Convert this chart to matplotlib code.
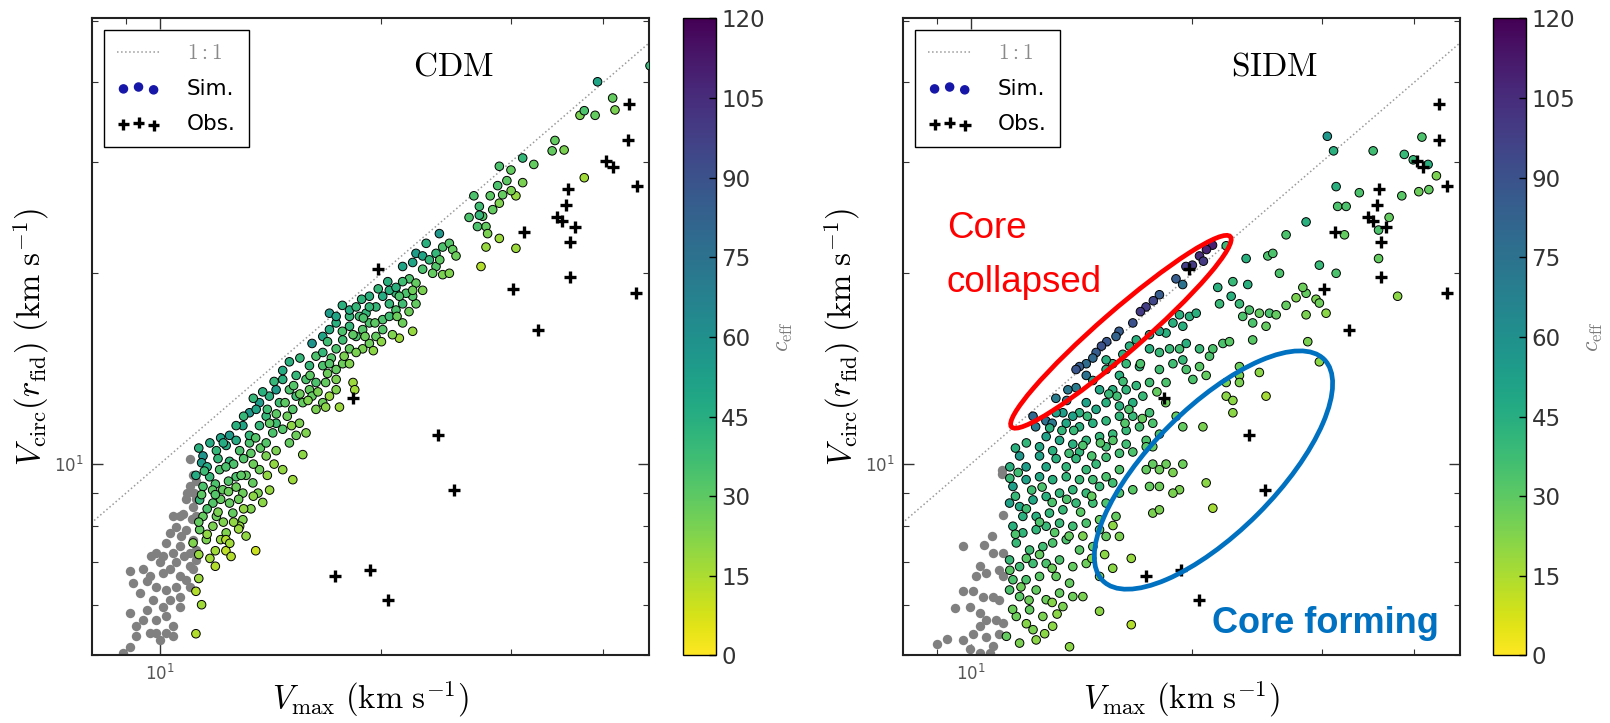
import numpy as np
import matplotlib
matplotlib.use("Agg")
import matplotlib.pyplot as plt
from matplotlib.patches import Ellipse
from matplotlib.transforms import ScaledTranslation
from matplotlib.ticker import NullFormatter
from matplotlib.lines import Line2D

plt.rcParams['mathtext.fontset'] = 'cm'
plt.rcParams['font.family'] = 'DejaVu Sans'

# observed galaxies (same in both panels)
obs_vmax = [19.8, 43.3, 43.2, 40.4, 41.2, 44.4, 35.8, 35.6, 34.6, 35.2, 36.6, 36.1,
            31.2, 36.1, 30.2, 44.3, 32.6, 18.3, 23.9, 25.1, 17.3, 19.3, 20.4]
obs_vcirc = [20.3, 37.0, 32.5, 30.1, 29.4, 27.5, 27.2, 25.6, 24.5, 24.2, 23.7, 22.4,
             23.2, 19.7, 18.9, 18.6, 16.3, 12.7, 11.1, 9.1, 6.65, 6.8, 6.1]

# CDM simulated haloes: (Vmax, Vcirc, c_eff)
cdm_pts = [
    (11.45, 10.3, 58), (11.4, 10.05, 54), (11.94, 10.5, 40), (12.31, 10.7, 46), (12.06, 9.8, 34),
    (11.69, 9.55, 40), (12.44, 10.1, 40), (12.84, 10.5, 34), (13.24, 10.8, 34), (12.7, 9.55, 34),
    (12.18, 9.11, 29), (11.45, 9.22, 34), (11.33, 8.78, 40), (11.81, 8.68, 32), (12.44, 8.68, 29),
    (12.97, 9.0, 27), (13.38, 9.34, 29), (13.66, 9.8, 27), (13.95, 10.3, 24), (14.39, 10.5, 24),
    (14.69, 9.8, 20), (15.16, 9.45, 18), (11.45, 8.27, 29), (11.94, 8.27, 27), (12.57, 8.37, 29),
    (12.97, 8.17, 23), (11.33, 7.88, 29), (11.81, 7.98, 24), (12.31, 7.79, 23), (12.84, 7.98, 19),
    (11.57, 7.6, 24), (11.1, 7.51, 23),
    (11.6, 9.9, 46), (12.0, 10.2, 40), (12.6, 10.0, 34), (13.0, 10.2, 32), (11.2, 9.6, 46),
    (11.9, 9.3, 34), (12.4, 9.4, 32), (13.1, 9.6, 29), (13.6, 9.0, 24), (14.1, 9.1, 19),
    (11.6, 8.5, 34), (12.1, 8.8, 29), (12.8, 8.8, 27), (13.3, 8.5, 23), (13.8, 8.7, 21),
    (11.3, 8.1, 29), (12.1, 7.6, 19), (13.1, 7.7, 20),
    (11.2, 5.4, 14), (11.4, 6.0, 17), (11.2, 6.3, 14), (11.3, 6.6, 18), (11.9, 6.9, 14),
    (11.9, 7.3, 17), (12.3, 7.6, 14), (12.3, 7.3, 12), (12.5, 7.15, 14), (13.5, 7.3, 10),
    (12.8, 7.9, 18),
    (11.3, 10.6, 44), (11.7, 10.8, 46), (12.1, 11.0, 50), (11.5, 9.75, 38), (11.8, 9.1, 30),
    (12.3, 9.9, 34), (12.7, 9.2, 27), (13.4, 10.0, 27), (13.7, 10.6, 30), (14.3, 10.0, 20),
    (11.4, 8.95, 30), (12.0, 8.4, 24), (12.6, 8.1, 20), (11.6, 7.75, 20), (12.2, 8.1, 23),
    (11.9, 8.95, 32), (12.9, 9.6, 30), (13.3, 10.4, 30), (14.0, 9.6, 20), (12.45, 7.5, 17),
    (11.3, 7.2, 19), (11.7, 7.1, 17), (13.4, 8.9, 21), (12.4, 9.05, 27), (13.0, 8.5, 20),
    (12.44, 11.1, 54), (12.7, 10.9, 46), (13.24, 11.1, 40), (13.66, 11.5, 40), (12.97, 11.5, 50),
    (13.24, 12.05, 56), (13.95, 11.9, 40), (13.66, 12.5, 54), (13.52, 12.2, 50), (14.54, 12.5, 37),
    (14.09, 12.8, 44), (14.39, 13.1, 54), (15.0, 13.1, 34), (14.69, 13.6, 44), (14.69, 14.05, 46),
    (15.32, 13.8, 40), (15.8, 13.6, 34), (15.97, 13.1, 29), (15.64, 12.5, 29), (15.16, 12.2, 32),
    (15.48, 11.6, 24), (15.8, 11.2, 23), (15.32, 11.1, 27), (15.0, 10.8, 29), (14.69, 11.35, 32),
    (14.24, 11.2, 34), (13.95, 10.8, 32), (14.39, 11.6, 37), (15.64, 10.35, 21), (16.3, 12.2, 24),
    (16.65, 12.5, 27), (17.0, 12.8, 19), (17.36, 13.1, 23), (16.8, 13.45, 29), (16.3, 13.45, 34),
    (17.36, 14.1, 29), (17.72, 14.4, 27), (16.65, 14.3, 34), (15.97, 14.3, 40), (17.36, 13.6, 24),
    (17.54, 12.3, 18), (18.3, 13.45, 18), (18.4, 13.1, 17), (16.1, 12.8, 29), (15.32, 12.8, 37),
    (12.7, 11.5, 44), (12.2, 10.8, 46),
    (13.0, 11.9, 40), (13.5, 11.0, 32), (14.0, 12.2, 37), (14.4, 12.0, 30), (14.8, 12.5, 30),
    (15.2, 13.3, 32), (15.5, 12.9, 27), (14.9, 11.9, 27), (15.9, 12.6, 23), (16.4, 13.0, 24),
    (16.0, 13.8, 30), (14.3, 13.5, 40), (13.8, 13.0, 44), (13.4, 12.7, 40), (14.1, 11.6, 30),
    (16.9, 13.9, 27), (17.1, 14.7, 32), (16.3, 14.8, 34), (15.5, 14.7, 40), (15.0, 14.5, 44),
    (16.8, 12.3, 21), (15.1, 11.5, 21),
    (16.1, 15.5, 58), (16.65, 15.9, 50), (17.0, 16.3, 46), (17.36, 16.7, 44), (18.1, 16.5, 40),
    (17.72, 15.7, 37), (18.48, 15.9, 34), (18.86, 16.3, 32), (19.26, 16.7, 34), (17.36, 15.2, 34),
    (18.1, 15.2, 29), (18.86, 15.2, 24), (16.65, 15.0, 40), (17.0, 14.4, 32), (18.1, 14.4, 23),
    (18.48, 15.0, 24), (19.26, 15.5, 27), (19.66, 15.9, 29), (20.08, 16.3, 32), (20.08, 16.9, 34),
    (20.5, 17.1, 37), (20.93, 17.5, 34), (21.37, 17.9, 37), (20.5, 17.9, 40), (20.08, 18.4, 46),
    (19.66, 17.7, 40), (19.06, 17.3, 40), (18.67, 17.1, 37), (21.37, 16.7, 27), (22.05, 16.2, 19),
    (21.15, 15.8, 18), (22.28, 17.9, 29), (22.05, 18.4, 32), (20.93, 18.6, 40), (21.6, 18.6, 34),
    (20.5, 18.8, 44), (19.26, 17.7, 40), (18.1, 17.1, 40), (17.0, 17.3, 54), (17.36, 17.1, 50),
    (18.1, 17.5, 46), (18.48, 17.7, 40), (19.26, 18.4, 44),
    (17.7, 16.2, 34), (18.3, 16.0, 30), (19.0, 15.9, 27), (19.6, 16.7, 30), (18.9, 17.0, 34),
    (17.7, 17.8, 44), (18.8, 18.2, 42), (19.8, 18.9, 40), (20.4, 19.4, 44), (21.0, 17.1, 27),
    (20.0, 15.6, 21), (19.5, 15.1, 21), (17.8, 14.8, 24), (16.9, 15.6, 37), (21.8, 17.4, 27),
    (20.7, 16.0, 23),
    (21.37, 20.5, 50), (22.05, 20.8, 50), (22.28, 21.5, 54), (22.75, 21.3, 50), (23.23, 21.0, 40),
    (23.72, 21.5, 40), (23.97, 23.1, 56), (24.22, 22.0, 34), (24.73, 22.3, 32), (24.99, 21.8, 29),
    (25.25, 21.3, 27), (23.72, 20.5, 32), (24.22, 19.9, 24), (24.73, 20.0, 23), (23.47, 20.0, 29),
    (22.75, 20.3, 34), (21.82, 19.6, 34), (21.37, 19.4, 37), (22.28, 19.3, 29), (22.75, 18.8, 24),
    (22.05, 18.8, 27), (20.93, 19.0, 44), (21.15, 18.4, 34), (23.0, 22.3, 44), (24.0, 21.0, 30),
    (26.7, 26.5, 34), (27.16, 25.5, 37), (27.44, 24.6, 32), (27.73, 23.7, 29), (27.0, 23.7, 34),
    (28.32, 25.2, 29), (28.91, 25.8, 23), (29.21, 26.6, 29), (30.45, 26.5, 19), (31.1, 27.8, 24),
    (28.76, 27.5, 34), (28.91, 29.5, 34), (29.98, 29.1, 29), (31.1, 30.4, 40), (32.2, 29.7, 29),
    (28.91, 22.7, 18), (27.73, 22.0, 19), (30.45, 21.9, 18), (27.3, 20.5, 14), (27.87, 23.1, 24),
    (27.16, 24.7, 40), (26.3, 24.5, 34), (28.1, 26.5, 30), (29.6, 28.0, 30), (30.0, 27.0, 24),
    (39.3, 40.1, 50), (41.2, 37.8, 29), (41.5, 36.2, 24), (39.0, 35.5, 29), (37.2, 35.5, 24),
    (37.7, 36.1, 34), (34.4, 32.4, 29), (35.4, 31.3, 24), (34.1, 31.2, 29), (37.7, 28.3, 17),
    (46.3, 42.5, 40),
]

# CDM haloes below the resolution cut (grey)
cdm_grey = [
    (11.0, 10.2), (11.1, 9.6), (10.98, 9.25), (11.15, 9.0), (10.87, 8.8), (11.1, 8.57),
    (10.75, 8.35), (11.05, 8.2), (10.64, 8.27), (10.42, 8.27), (10.53, 7.97), (10.87, 7.88),
    (10.7, 7.7), (11.1, 7.6), (10.32, 7.8), (10.21, 7.5), (10.64, 7.42), (10.98, 7.24),
    (10.42, 7.24), (10.1, 7.15), (9.9, 7.24), (9.74, 7.15), (10.0, 7.0), (10.53, 7.0),
    (10.98, 6.9), (10.32, 6.82), (9.69, 6.65), (10.1, 6.74), (10.64, 6.65), (11.1, 6.82),
    (10.87, 6.57), (9.5, 6.82), (9.11, 6.78), (9.2, 6.49), (9.6, 6.53), (9.9, 6.41),
    (10.21, 6.33), (10.53, 6.41), (9.4, 6.26), (9.8, 6.1), (10.1, 5.96), (10.32, 6.1),
    (10.64, 6.18), (9.6, 5.89), (9.11, 5.82), (9.3, 5.55), (9.5, 5.68), (9.9, 5.68),
    (10.21, 5.75), (10.42, 5.55), (9.69, 5.41), (10.0, 5.28), (9.3, 5.35), (9.11, 5.15),
    (8.92, 5.03), (10.42, 5.35), (10.21, 5.41), (9.9, 5.41), (10.64, 5.96), (10.98, 6.41),
    (11.2, 9.4), (11.2, 8.8), (10.9, 9.0), (11.2, 8.27), (11.2, 7.33), (11.2, 7.05), (10.8, 7.15),
]

# SIDM simulated haloes: (Vmax, Vcirc, c_eff)
sidm_pts = [
    # core-collapsed haloes along the 1:1 line
    (21.3, 22.15, 110), (20.9, 21.8, 108), (20.45, 21.3, 105), (20.7, 20.9, 100), (20.0, 20.6, 100),
    (19.6, 20.5, 98), (19.0, 19.6, 85), (19.4, 19.2, 75), (18.04, 18.5, 85), (17.7, 18.1, 95),
    (17.3, 17.7, 98), (17.0, 17.4, 100), (16.6, 16.7, 90), (15.9, 16.2, 85), (15.75, 15.9, 82),
    (15.3, 15.6, 88), (15.05, 15.35, 90), (14.8, 15.0, 85), (14.65, 14.7, 80), (14.35, 14.4, 78),
    (14.05, 14.25, 85), (13.9, 14.1, 88), (14.35, 13.8, 75), (13.9, 13.2, 70), (13.55, 13.1, 72),
    (13.05, 12.7, 70), (13.5, 12.6, 70), (12.15, 11.9, 80), (12.65, 11.7, 75), (12.25, 11.45, 70),
    (12.9, 11.6, 72),
    # upper right
    (31.35, 27.4, 44), (33.71, 26.8, 34), (31.5, 25.5, 34), (32.35, 25.5, 34), (28.54, 24.1, 44),
    (26.81, 23.0, 34), (32.18, 23.0, 29),
    (30.5, 32.9, 56), (31.1, 31.2, 44), (35.2, 31.2, 37), (41.0, 32.8, 34), (38.8, 30.8, 39),
    (39.9, 30.2, 39), (42.9, 28.5, 24), (41.9, 27.1, 29), (40.6, 26.9, 27), (38.5, 26.5, 31),
    (37.0, 24.5, 29), (35.8, 23.4, 34), (35.8, 21.1, 29), (38.0, 18.4, 21), (41.8, 29.7, 44),
    (22.23, 22.1, 39), (23.66, 21.1, 44), (25.32, 21.3, 34), (25.72, 21.5, 34), (26.26, 20.0, 34),
    (29.75, 20.6, 39), (31.35, 20.0, 34), (22.7, 19.4, 39), (23.78, 19.2, 44), (21.65, 19.0, 44),
    (22.58, 18.4, 44), (21.77, 17.9, 39), (23.17, 17.9, 39), (23.9, 17.5, 34), (24.66, 17.3, 29),
    (25.45, 17.3, 34), (25.99, 17.2, 29), (26.81, 17.8, 29), (27.66, 18.3, 24), (28.54, 18.6, 29),
    (28.25, 19.0, 27), (29.44, 18.2, 24), (29.75, 17.95, 27), (30.38, 17.3, 21), (28.54, 17.2, 24),
    (25.18, 16.5, 29), (24.15, 16.7, 34), (23.41, 17.1, 34),
    # middle of the cloud
    (19.82, 17.1, 44), (20.24, 17.3, 44), (19.21, 17.2, 44), (18.82, 16.7, 44), (19.41, 16.5, 44),
    (18.42, 16.1, 44), (18.04, 16.2, 48), (17.49, 16.0, 48), (16.78, 15.7, 44), (16.43, 15.35, 44),
    (16.09, 14.9, 44), (15.59, 14.4, 44), (15.27, 14.6, 44), (15.27, 14.1, 44), (16.26, 14.4, 39),
    (16.95, 14.25, 41), (17.49, 15.2, 44), (18.04, 15.0, 39), (18.62, 15.2, 39), (19.21, 15.2, 37),
    (19.62, 15.5, 44), (20.45, 15.2, 39), (21.1, 14.8, 34), (21.32, 15.2, 34), (22.0, 15.5, 34),
    (22.46, 15.6, 31), (24.15, 15.7, 31), (28.69, 15.6, 24), (29.75, 14.5, 21), (18.04, 14.1, 37),
    (17.49, 13.45, 37), (18.42, 13.45, 34), (18.82, 14.4, 37), (19.41, 14.6, 39), (19.62, 14.1, 34),
    (20.03, 13.6, 34), (20.45, 14.25, 31), (20.88, 13.8, 29), (23.17, 14.25, 27), (23.17, 13.8, 24),
    (24.66, 13.95, 21), (22.23, 13.45, 24),
    (14.65, 13.55, 51), (14.96, 13.1, 48), (15.92, 13.8, 44), (15.59, 13.1, 44), (16.26, 13.1, 41),
    (16.78, 13.3, 41), (17.13, 12.8, 39), (16.6, 12.5, 44), (15.92, 12.35, 44), (15.27, 12.5, 44),
    (14.8, 12.2, 48), (14.35, 12.5, 51), (14.05, 12.05, 44), (13.76, 11.9, 51), (13.34, 12.05, 53),
    (13.06, 12.05, 51), (13.48, 11.6, 48), (14.05, 11.45, 44), (14.65, 11.6, 44), (15.27, 11.7, 41),
    (15.92, 11.9, 41), (16.6, 11.9, 39), (17.49, 12.05, 37), (17.67, 11.6, 34), (16.95, 11.45, 37),
    (16.26, 11.3, 39), (15.59, 11.15, 39), (14.96, 11.05, 41), (14.35, 10.9, 41), (13.76, 10.75, 44),
    (13.2, 10.9, 48), (12.66, 11.05, 51), (12.4, 10.65, 48), (12.92, 10.5, 44), (14.05, 10.45, 41),
    (15.27, 10.65, 37), (16.26, 10.75, 37), (17.31, 10.9, 34), (18.04, 11.15, 34), (17.67, 10.65, 29),
    (19.01, 11.9, 29), (19.41, 11.45, 29), (20.67, 11.45, 24), (22.7, 12.05, 21), (22.23, 12.8, 21),
    (22.7, 12.6, 21), (23.17, 13.45, 24), (25.18, 12.8, 16),
    # lower part (core forming)
    (11.65, 10.3, 56), (11.89, 9.9, 53), (12.4, 10.3, 51), (12.66, 9.9, 48), (13.06, 10.2, 44),
    (13.48, 9.9, 41), (13.9, 10.2, 41), (14.35, 9.8, 39), (14.8, 10.0, 39), (15.27, 10.25, 37),
    (15.92, 10.4, 37), (16.6, 10.45, 34), (17.31, 10.65, 31), (17.67, 10.0, 29), (18.42, 10.0, 27),
    (18.82, 9.7, 24), (19.41, 10.0, 27), (17.31, 9.8, 29), (18.04, 9.8, 27), (15.92, 9.8, 34),
    (15.27, 9.55, 34), (14.65, 9.45, 37), (14.05, 9.45, 39), (13.48, 9.55, 41), (12.92, 9.45, 44),
    (12.4, 9.55, 48), (11.89, 9.45, 51), (11.41, 9.22, 53), (11.29, 8.68, 51), (11.65, 8.57, 48),
    (12.15, 8.78, 48), (12.66, 8.89, 44), (13.2, 9.0, 41), (13.76, 9.11, 41), (14.35, 9.0, 39),
    (14.96, 9.22, 39), (15.59, 9.34, 37), (15.27, 8.68, 34), (14.65, 8.68, 37), (13.9, 8.68, 39),
    (13.34, 8.47, 39), (12.79, 8.37, 41), (12.27, 8.27, 44), (11.77, 8.27, 44), (15.92, 9.0, 34),
    (16.6, 9.11, 31), (17.49, 9.22, 29), (18.04, 9.22, 27), (19.21, 9.11, 24), (20.88, 9.34, 21),
    (21.32, 8.52, 16), (17.67, 8.37, 24), (18.04, 8.47, 24), (18.82, 9.0, 24), (15.75, 8.27, 29),
    (14.96, 8.17, 29),
    (11.41, 7.98, 44), (11.77, 7.79, 41), (12.27, 7.88, 41), (12.66, 7.98, 39), (13.2, 8.07, 39),
    (13.76, 7.98, 37), (14.35, 8.07, 34), (14.96, 7.88, 31), (15.27, 7.69, 29), (15.92, 7.69, 24),
    (11.53, 7.51, 39), (12.02, 7.32, 37), (12.53, 7.41, 37), (12.92, 7.51, 34), (13.48, 7.6, 34),
    (14.05, 7.32, 31), (14.65, 7.41, 29), (11.29, 7.06, 39), (11.65, 6.89, 37), (12.15, 6.97, 37),
    (12.66, 6.97, 34), (13.2, 7.06, 34), (13.76, 6.89, 29), (14.35, 6.97, 27), (14.96, 6.65, 24),
    (15.59, 6.85, 21), (16.52, 7.1, 19), (11.41, 6.57, 34), (11.89, 6.57, 34), (12.4, 6.65, 31),
    (13.06, 6.65, 29), (13.62, 6.49, 29),
    (11.29, 6.33, 34), (11.65, 6.18, 31), (12.27, 6.33, 29), (12.66, 6.11, 27), (13.2, 6.26, 29),
    (13.76, 6.18, 27), (14.2, 6.18, 24), (13.34, 5.96, 24), (12.02, 5.89, 29), (11.53, 5.75, 27),
    (12.53, 5.75, 24), (12.15, 5.48, 24), (12.92, 5.55, 21), (14.96, 5.86, 21), (16.52, 5.58, 14),
    (11.65, 5.22, 24), (12.27, 5.28, 21), (13.62, 5.15, 21), (11.18, 5.35, 29),
    (11.3, 9.9, 44), (11.5, 10.6, 44), (11.9, 10.8, 41), (11.3, 9.5, 39), (11.6, 9.7, 37),
    (12.1, 9.1, 37), (12.5, 9.2, 34), (12.9, 8.7, 34), (13.5, 8.8, 34), (14.1, 8.4, 31),
    (14.6, 8.9, 29), (11.5, 8.9, 39), (11.9, 8.5, 37), (12.4, 8.1, 34), (13.0, 7.8, 31),
    (13.6, 7.7, 29), (11.5, 7.75, 34), (11.9, 7.1, 31), (12.4, 7.2, 29), (12.9, 6.85, 27),
    (11.3, 6.8, 31), (11.7, 6.4, 27), (12.0, 6.1, 27), (12.9, 6.05, 22), (13.1, 5.8, 21),
    (11.4, 5.9, 27), (11.9, 5.6, 22), (12.6, 5.4, 21), (14.2, 7.7, 24), (14.6, 7.1, 22),
    (15.2, 7.2, 21), (15.6, 8.0, 21), (13.6, 10.4, 37), (14.2, 10.7, 34), (14.6, 10.3, 34),
    (15.0, 10.8, 32), (15.6, 10.9, 32), (16.2, 11.6, 32), (15.8, 12.8, 37), (16.4, 12.2, 34),
    (17.1, 11.8, 29), (13.3, 11.3, 41), (13.8, 11.3, 39), (12.8, 11.4, 44), (14.4, 11.9, 39),
    (15.4, 12.9, 39), (16.1, 13.5, 37), (17.0, 14.4, 34), (17.9, 13.0, 29), (18.4, 12.5, 27),
]

sidm_grey = [
    (11.03, 9.8), (11.03, 9.65), (11.06, 8.3), (10.68, 7.7), (10.42, 7.45), (9.76, 7.42),
    (10.72, 7.24), (11.06, 7.24), (10.3, 6.9), (10.5, 6.73), (10.18, 6.65), (10.94, 6.8),
    (11.06, 6.65), (9.76, 6.3), (10.07, 6.3), (9.51, 5.93), (9.97, 5.96), (10.39, 6.18),
    (10.72, 6.18), (10.94, 6.1), (10.28, 5.82), (10.5, 5.68), (10.83, 5.68), (11.06, 5.62),
    (9.27, 5.3), (8.99, 5.2), (9.76, 5.28), (10.07, 5.4), (10.28, 5.55), (10.5, 5.33),
    (10.72, 5.16), (10.61, 5.04), (9.97, 5.1), (10.28, 5.04), (10.94, 5.4),
]

cbar_ticks = [0, 15, 30, 45, 60, 75, 90, 105, 120]
xlims = (8.1, 46.2)
ylims = (4.99, 50.5)

fig = plt.figure(figsize=(16.1, 7.23), dpi=100)
ax_l = fig.add_axes([0.0573, 0.0934, 0.3460, 0.8813])
cax_l = fig.add_axes([0.4244, 0.0934, 0.0201, 0.8813])
ax_r = fig.add_axes([0.5611, 0.0934, 0.3458, 0.8813])
cax_r = fig.add_axes([0.9275, 0.0934, 0.0203, 0.8813])


def panel(ax, cax, pts, grey, name, name_x):
    pts = np.array(pts)
    grey = np.array(grey)
    ax.plot([1, 100], [1, 100], ls=':', color='#9a9a9a', lw=1.1, zorder=1)
    sc = ax.scatter(pts[:, 0], pts[:, 1], c=pts[:, 2], cmap='viridis_r', vmin=0, vmax=120,
                    s=38, edgecolors='k', linewidths=0.7, zorder=3)
    ax.scatter(grey[:, 0], grey[:, 1], color='#808080', s=46, linewidths=0, zorder=2)
    ax.plot(obs_vmax, obs_vcirc, '+', color='k', ms=9, mew=2.4, zorder=4)

    ax.set_xscale('log')
    ax.set_yscale('log')
    ax.set_xlim(*xlims)
    ax.set_ylim(*ylims)
    ax.xaxis.set_minor_formatter(NullFormatter())
    ax.yaxis.set_minor_formatter(NullFormatter())
    ax.tick_params(which='both', direction='in', top=True, right=True, color='#333333')
    ax.tick_params(which='major', length=8, width=1, labelsize=12, labelcolor='#555555', pad=6)
    ax.tick_params(which='minor', length=4, width=0.8)
    for sp in ax.spines.values():
        sp.set_linewidth(1.5)
        sp.set_color('#222222')

    ax.set_xlabel(r'$V_{\rm max}\ ({\rm km\ s^{-1}})$', fontsize=23.5)
    ax.set_ylabel(r'$V_{\rm circ}(r_{\rm fid})\ ({\rm km\ s^{-1}})$', fontsize=23.5)
    ax.xaxis.set_label_coords(0.5, -0.036)
    ax.yaxis.set_label_coords(-0.074, 0.5)
    ax.text(name_x, 0.925, r'$\mathrm{%s}$' % name, transform=ax.transAxes,
            ha='center', va='center', fontsize=24)

    h_line = Line2D([], [], ls=':', color='#9a9a9a', lw=1.1)
    h_sim = ax.scatter([], [], s=34, color='#1616a8')
    h_obs = ax.scatter([], [], marker='+', s=70, color='k', linewidths=2.4)
    leg = ax.legend([h_line, h_sim, h_obs], ['$1:1$', 'Sim.', 'Obs.'], loc='upper left',
                    scatterpoints=3, scatteryoffsets=[0.375, 0.5, 0.3125], fontsize=15.5,
                    fancybox=False, edgecolor='k', framealpha=1, borderaxespad=0.55,
                    borderpad=0.6, labelspacing=0.72, handlelength=2.0, handletextpad=1.25)
    leg.get_frame().set_linewidth(1.0)
    leg.get_texts()[0].set_color('#8a8a8a')

    cb = fig.colorbar(sc, cax=cax, ticks=cbar_ticks)
    cb.outline.set_linewidth(1.0)
    cb.ax.tick_params(direction='in', length=5, width=1, labelsize=16.5,
                      labelcolor='#333333', pad=4)
    cb.set_label(r'$c_{\rm eff}$', fontsize=17, color='#7a7a7a', labelpad=4)
    return ax


panel(ax_l, cax_l, cdm_pts, cdm_grey, 'CDM', 0.649)
panel(ax_r, cax_r, sidm_pts, sidm_grey, 'SIDM', 0.667)


def ellipse(ax, cx, cy, w, h, ang, col):
    tr = fig.dpi_scale_trans + ScaledTranslation(cx, cy, ax.transAxes)
    e = Ellipse((0, 0), w, h, angle=ang, transform=tr, fill=False, edgecolor=col, lw=3.4,
                zorder=6, clip_on=False)
    ax.add_artist(e)


ellipse(ax_r, 0.3907, 0.508, 2.90, 0.42, 41, '#ff0000')
ellipse(ax_r, 0.557, 0.291, 3.13, 1.25, 45, '#0070c0')

ax_r.text(0.078, 0.6547, 'Core', transform=ax_r.transAxes, color='#ff0000', fontsize=26.5,
          family='Liberation Sans', va='baseline', ha='left')
ax_r.text(0.078, 0.5710, 'collapsed', transform=ax_r.transAxes, color='#ff0000', fontsize=26.5,
          family='Liberation Sans', va='baseline', ha='left')
ax_r.text(0.554, 0.0358, 'Core forming', transform=ax_r.transAxes, color='#0070c0',
          fontsize=26, fontweight='bold', family='Liberation Sans', va='baseline', ha='left')

fig.savefig('out.png', dpi=100, facecolor='white')
